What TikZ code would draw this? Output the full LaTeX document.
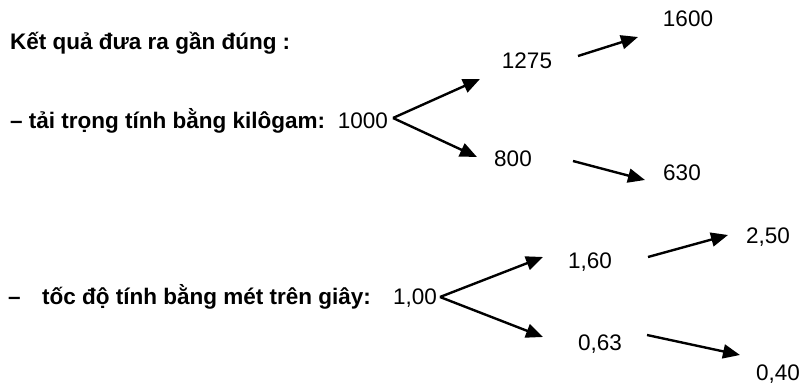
\documentclass[tikz,border=0pt]{standalone}
\usepackage{fontspec}
\setmainfont{Liberation Sans}
\usetikzlibrary{arrows.meta}
\begin{document}
\begin{tikzpicture}[x=1pt,y=-1pt,
  txt/.style={font=\fontsize{22.5}{27}\selectfont\bfseries, inner sep=0pt},
  num/.style={font=\fontsize{22.5}{27}\selectfont, inner sep=0pt},
  arr/.style={line width=2.4pt, -{Triangle[length=17pt,width=14pt]}}]
\useasboundingbox (0,0) rectangle (806,385);
% top group
\node[txt, anchor=base west] (title) at (10,50) {Kết quả đưa ra gần đúng :};
\node[txt, anchor=base west] (load) at (10,129) {– tải trọng tính bằng kilôgam:};
\node[num, anchor=base east] (v1000) at (388,129) {1000};
\coordinate (f1) at (393,118);
\coordinate (u1) at (480,79);
\coordinate (d1) at (477,157);
\node[num] (n1275) at (527,61) {1275};
\node[num] (n800) at (513,159) {800};
\node[num] (n1600) at (688,19) {1600};
\node[num] (n630) at (682,173) {630};
\coordinate (a1s) at (578,56);
\coordinate (a1e) at (638,37);
\coordinate (a2s) at (573,161);
\coordinate (a2e) at (645,180);
\draw[arr] (f1) -- (u1);
\draw[arr] (f1) -- (d1);
\draw[arr] (a1s) -- (a1e);
\draw[arr] (a2s) -- (a2e);
% bottom group
\node[txt, anchor=base west] (dash2) at (8,304) {–};
\node[txt, anchor=base west] (speed) at (42,304) {tốc độ tính bằng mét trên giây:};
\node[num, anchor=base west] (v100) at (393,304) {1,00};
\coordinate (f2) at (440,297);
\coordinate (u2) at (543,257);
\coordinate (d2) at (543,337);
\node[num] (n160) at (590,262) {1,60};
\node[num] (n063) at (600,344) {0,63};
\node[num] (n250) at (768,237) {2,50};
\node[num] (n040) at (778,374) {0,40};
\coordinate (b1s) at (648,257);
\coordinate (b1e) at (728,235);
\coordinate (b2s) at (647,335);
\coordinate (b2e) at (740,355);
\draw[arr] (f2) -- (u2);
\draw[arr] (f2) -- (d2);
\draw[arr] (b1s) -- (b1e);
\draw[arr] (b2s) -- (b2e);
\end{tikzpicture}
\end{document}
